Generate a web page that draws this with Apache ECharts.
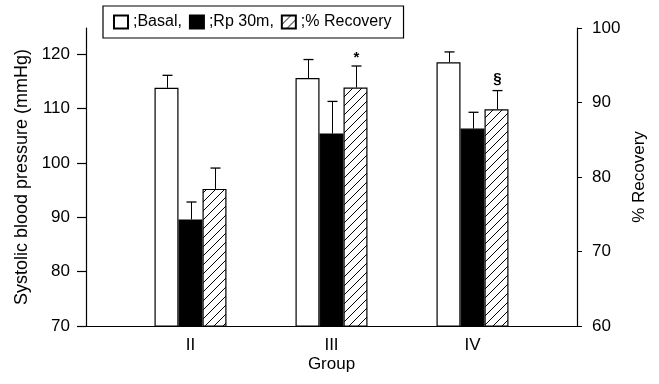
<!DOCTYPE html>
<html>
<head>
<meta charset="utf-8">
<script src="https://cdn.jsdelivr.net/npm/echarts@6/dist/echarts.min.js"></script>
<style>
  html, body { margin: 0; padding: 0; background: #fff; }
  #chart { width: 659px; height: 384px; }
</style>
</head>
<body>
<div id="chart"></div>
<script>
// Groups and measurements (mean with upper SE whisker)
const groups = ['II', 'III', 'IV'];
const seriesNames = ['Basal', 'Rp 30m', '% Recovery'];
const basal = [113.8, 115.6, 118.5];
const basalSE = [2.3, 3.4, 1.9];
const rp30 = [89.6, 105.4, 106.3];
const rp30SE = [3.2, 5.9, 3.0];
const recovery = [78.4, 92.0, 89.1];
const recoverySE = [2.8, 2.9, 2.5];
const recoveryMarks = ['', '*', '§'];
const pressureTicks = [70, 80, 90, 100, 110, 120];
const recoveryTicks = [60, 70, 80, 90, 100];

const FONT = '"Liberation Sans", Arial, Helvetica, sans-serif';
const BAR_W = 24;
const PRESSURE_MIN = 70, PRESSURE_MAX = 124.8;
const RECOVERY_MIN = 60, RECOVERY_MAX = 100;

// Diagonal hatch fill used for the recovery bars
function hatchPattern() {
  const s = 9;
  const c = document.createElement('canvas');
  c.width = s; c.height = s;
  const g = c.getContext('2d');
  g.fillStyle = '#fff';
  g.fillRect(0, 0, s, s);
  g.strokeStyle = '#000';
  g.lineWidth = 1;
  g.beginPath();
  g.moveTo(0, s); g.lineTo(s, 0);
  g.moveTo(-2, 2); g.lineTo(2, -2);
  g.moveTo(s - 2, s + 2); g.lineTo(s + 2, s - 2);
  g.stroke();
  return c;
}

// Upper error whiskers (and significance marks) drawn over the bars
function whiskers(vals, ses, slot, yAxisIndex, marks) {
  return {
    type: 'custom',
    xAxisIndex: 1,
    yAxisIndex: yAxisIndex,
    silent: true,
    z: 5,
    data: groups.map((g, i) => [i, vals[i], ses[i]]),
    renderItem(params, api) {
      const base = api.coord([api.value(0), api.value(1)]);
      const cap = api.coord([api.value(0), api.value(1) + api.value(2)]);
      const x = Math.round(base[0] + (slot - 1) * BAR_W) + 0.5;
      const children = [
        { type: 'line', shape: { x1: x, y1: base[1], x2: x, y2: cap[1] }, style: { stroke: '#000', lineWidth: 1 } },
        { type: 'line', shape: { x1: x - 5, y1: cap[1], x2: x + 5, y2: cap[1] }, style: { stroke: '#000', lineWidth: 1.3 } }
      ];
      const mark = marks ? marks[params.dataIndex] : '';
      if (mark) {
        children.push({
          type: 'text',
          style: { text: mark, x: x, y: cap[1] - (mark === '*' ? 1 : 4), align: 'center', verticalAlign: 'bottom',
                   font: 'bold 15px ' + FONT, fill: '#000' }
        });
      }
      return { type: 'group', children: children };
    }
  };
}

const chart = echarts.init(document.getElementById('chart'), null, { renderer: 'canvas' });
const hatch = { image: hatchPattern(), repeat: 'repeat' };

const option = {
  animation: false,
  backgroundColor: '#fff',
  textStyle: { fontFamily: FONT, color: '#000' },
  legend: {
    data: seriesNames,
    left: 103,
    top: 6,
    padding: [8, 12, 8, 10],
    borderColor: '#000',
    borderWidth: 1.2,
    icon: 'rect',
    itemWidth: 14,
    itemHeight: 13,
    itemGap: 7,
    selectedMode: false,
    textStyle: { fontFamily: FONT, fontSize: 16, color: '#000' },
    formatter: name => ';' + name + (name === seriesNames[seriesNames.length - 1] ? '' : ',')
  },
  grid: [
    { left: 86, right: 82, top: 28, bottom: 58 },
    { left: 120, right: 116, top: 28, bottom: 58 }
  ],
  xAxis: [
    {
      type: 'value', gridIndex: 0, min: 0, max: 1,
      name: 'Group', nameLocation: 'middle', nameGap: 30,
      nameTextStyle: { fontFamily: FONT, fontSize: 17, color: '#000' },
      axisLine: { show: true, lineStyle: { color: '#000', width: 1.2 } },
      axisTick: { show: false }, axisLabel: { show: false }, splitLine: { show: false }
    },
    {
      type: 'category', gridIndex: 1, data: groups,
      axisLine: { show: false }, axisTick: { show: false },
      axisLabel: { margin: 11, fontFamily: FONT, fontSize: 17, color: '#000' },
      splitLine: { show: false }
    }
  ],
  yAxis: [
    {
      type: 'value', gridIndex: 0, position: 'left', min: PRESSURE_MIN, max: PRESSURE_MAX,
      name: 'Systolic blood pressure (mmHg)', nameLocation: 'middle', nameGap: 51, nameRotate: 90,
      nameTextStyle: { fontFamily: FONT, fontSize: 18, color: '#000' },
      axisLine: { show: true, lineStyle: { color: '#000', width: 1.2 } },
      axisTick: { show: true, length: 9, customValues: pressureTicks, lineStyle: { color: '#000', width: 1.2 } },
      axisLabel: { customValues: pressureTicks, margin: 16, fontFamily: FONT, fontSize: 17, color: '#000' },
      splitLine: { show: false }
    },
    {
      type: 'value', gridIndex: 0, position: 'right', min: RECOVERY_MIN, max: RECOVERY_MAX, interval: 10,
      name: '% Recovery', nameLocation: 'middle', nameGap: 46, nameRotate: 90,
      nameTextStyle: { fontFamily: FONT, fontSize: 17, color: '#000' },
      axisLine: { show: true, lineStyle: { color: '#000', width: 1.2 } },
      axisTick: { show: true, length: 5, customValues: recoveryTicks, lineStyle: { color: '#000', width: 1 } },
      axisLabel: { customValues: recoveryTicks, margin: 15, fontFamily: FONT, fontSize: 17, color: '#000' },
      splitLine: { show: false }
    },
    {
      type: 'value', gridIndex: 1, min: PRESSURE_MIN, max: PRESSURE_MAX, show: false
    },
    {
      type: 'value', gridIndex: 1, min: RECOVERY_MIN, max: RECOVERY_MAX, show: false
    }
  ],
  series: [
    {
      name: seriesNames[0], type: 'bar', xAxisIndex: 1, yAxisIndex: 2,
      data: basal, barWidth: BAR_W, barGap: '0%',
      itemStyle: { color: '#fff', borderColor: '#000', borderWidth: 1.2 }
    },
    {
      name: seriesNames[1], type: 'bar', xAxisIndex: 1, yAxisIndex: 2,
      data: rp30, barWidth: BAR_W, barGap: '0%',
      itemStyle: { color: '#000', borderColor: '#000', borderWidth: 1.2 }
    },
    {
      name: seriesNames[2], type: 'bar', xAxisIndex: 1, yAxisIndex: 3,
      data: recovery, barWidth: BAR_W, barGap: '0%',
      itemStyle: { color: hatch, borderColor: '#000', borderWidth: 1.2 }
    },
    whiskers(basal, basalSE, 0, 2, null),
    whiskers(rp30, rp30SE, 1, 2, null),
    whiskers(recovery, recoverySE, 2, 3, recoveryMarks)
  ]
};

chart.setOption(option);
</script>
</body>
</html>
